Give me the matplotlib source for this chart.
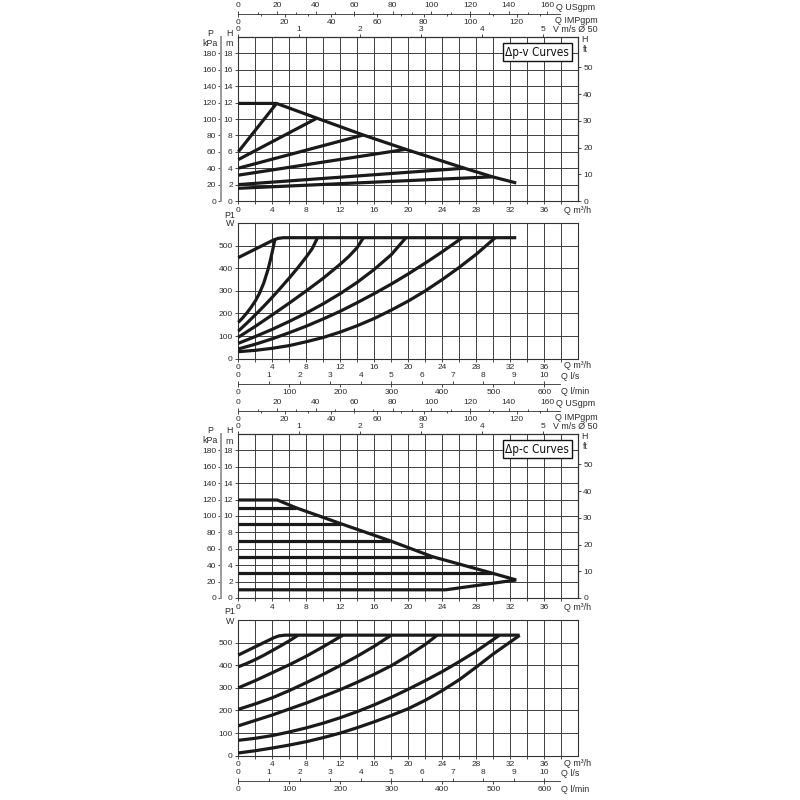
import numpy as np
import matplotlib
matplotlib.use("Agg")
import matplotlib.pyplot as plt
from matplotlib import font_manager
from matplotlib.font_manager import FontProperties

# ---- values (Q in m3/h, H in m, P1 in W) ----

# delta-p-v, head
dpv_max_q = [0, 4.5, 9.25, 14.7, 19.7, 26.6, 29.9, 32.7]
dpv_max_h = [11.9, 11.9, 10.1, 8.05, 6.3, 4.0, 2.95, 2.2]
dpv_start_h = [6.0, 5.05, 4.0, 3.15, 2.0, 1.55]
dpv_end_q = [4.5, 9.25, 14.7, 19.7, 26.6, 29.9]
dpv_end_h = [11.9, 10.1, 8.05, 6.3, 4.0, 2.95]

# delta-p-v, power
dpv_pmax_q = [0, 4.2, 4.7, 5.3, 32.7]
dpv_pmax_w = [447, 526, 532, 535, 535]
dpv_pow_q = [
    [0, 0.5, 1, 1.5, 2, 2.5, 3, 3.5, 3.8, 4.1, 4.3],
    [0, 1, 2, 3, 4, 5, 6, 7, 8, 8.7, 9.3],
    [0, 2, 4, 6, 8, 10, 12, 13, 14, 14.7],
    [0, 2, 4, 6, 8, 10, 12, 14, 16, 18, 19.7],
    [0, 2, 4, 6, 8, 10, 12, 14, 16, 18, 20, 22, 24, 26.35],
    [0, 2, 4, 6, 8, 10, 12, 14, 16, 18, 20, 22, 24, 26, 28, 30.2],
]
dpv_pow_w = [
    [161, 180, 202, 227, 255, 290, 335, 395, 440, 490, 528],
    [122, 157, 194, 232, 272, 314, 357, 402, 450, 487, 533],
    [95, 143, 194, 246, 300, 356, 418, 452, 492, 534],
    [68, 98, 130, 165, 202, 243, 288, 338, 395, 460, 534],
    [43, 64, 88, 115, 144, 176, 210, 248, 288, 330, 375, 423, 473, 535],
    [31, 37, 46, 58, 75, 94, 118, 146, 178, 215, 255, 300, 350, 404, 462, 534],
]

# delta-p-c, head
dpc_max_q = [0, 4.6, 6.8, 12.1, 17.8, 22.8, 29.8, 32.7]
dpc_max_h = [11.95, 11.95, 11.0, 9.05, 7.0, 5.05, 3.05, 2.2]
dpc_min_q = [0, 24.4, 32.7]
dpc_min_h = [1.0, 1.0, 2.2]
dpc_level_h = [11.0, 9.05, 7.0, 5.05, 3.05]
dpc_level_end_q = [6.8, 12.1, 17.8, 22.8, 29.8]

# delta-p-c, power
dpc_pmax_q = [0, 4.2, 4.8, 5.5, 33.1]
dpc_pmax_w = [445, 522, 530, 533, 533]
dpc_pow_q = [
    [0, 1, 2, 3, 4, 5, 6, 7],
    [0, 2, 4, 6, 8, 10, 12.3],
    [0, 2, 4, 6, 8, 10, 12, 14, 16, 18],
    [0, 4, 8, 12, 14, 16, 18, 20, 22, 23.4],
    [0, 2, 4, 6, 8, 10, 12, 14, 16, 18, 20, 22, 24, 26, 28, 30.7],
    [0, 2, 4, 6, 8, 10, 12, 14, 16, 18, 20, 22, 24, 26, 28, 30, 32, 33.1],
]
dpc_pow_w = [
    [393, 408, 425, 444, 465, 486, 508, 532],
    [300, 332, 367, 402, 440, 482, 533],
    [205, 229, 256, 288, 323, 360, 399, 440, 484, 533],
    [132, 180, 233, 292, 325, 360, 398, 443, 492, 533],
    [68, 77, 89, 105, 123, 144, 168, 195, 225, 258, 294, 332, 372, 416, 462, 532],
    [12, 22, 34, 47, 62, 80, 100, 124, 150, 178, 208, 245, 288, 336, 392, 450, 503, 532],
]

# unit conversions (per m3/h, per m)
USGPM = 4.403
IMPGPM = 3.666
LPS = 1 / 3.6
LPM = 1000 / 60
VEL = 1 / 7.16      # m/s in DN50
FT = 3.07
KPA = 10.0

# ---- layout in pixels of the 800x800 sheet ----
PX = 800
AX_L = 238.3
AX_W = 340.0
LINE_END = 37.8
FS = 6.0
FS_UNIT = 6.4
TXT = "#2b2b2b"
GRID = "#3f3f3f"
CURVE = "#1a1a1a"

plt.rcParams["font.family"] = ["Liberation Sans", "DejaVu Sans"]


def narrow_font():
    fonts = font_manager.fontManager.ttflist
    for f in fonts:
        if f.name == "Liberation Sans Narrow" and f.weight in (400, "normal", "regular") \
                and f.style == "normal":
            return FontProperties(fname=f.fname)
    for f in fonts:
        if str(f.stretch) in ("condensed", "semi-condensed") and f.style == "normal" \
                and f.weight in (400, "normal", "regular"):
            return FontProperties(fname=f.fname)
    return FontProperties(family="Liberation Sans")


NARROW = narrow_font()

fig = plt.figure(figsize=(8, 8), dpi=100)


def rect(top, height):
    return [AX_L / PX, 1 - (top + height) / PX, AX_W / PX, height / PX]


def label(x, y, s, ha="left"):
    fig.text(x / PX, 1 - y / PX, s, ha=ha, va="center", fontsize=FS_UNIT, color=TXT)


def style_grid(ax, ymax, ystep):
    ax.set_xlim(0, 40)
    ax.set_ylim(0, ymax)
    ax.set_xticks(np.arange(0, 37, 4))
    ax.set_xticks(np.arange(2, 40, 4), minor=True)
    ax.set_yticks(np.arange(0, ymax, ystep))
    ax.grid(True, which="both", color=GRID, lw=0.7)
    ax.set_axisbelow(True)
    ax.tick_params(which="both", direction="out", length=2.5, width=0.6,
                   labelsize=FS, pad=1.5, colors=TXT)
    for s in ax.spines.values():
        s.set_color("#333333")
        s.set_linewidth(0.8)


def scale_line(y, top_k, top_major, top_minor, bot_k, bot_major, bot_minor):
    ax = fig.add_axes([AX_L / PX, 1 - y / PX, AX_W / PX, 0.0004])
    ax.set_xlim(0, 40)
    ax.set_ylim(0, 1)
    for s in ("top", "left", "right"):
        ax.spines[s].set_visible(False)
    ax.spines["bottom"].set_bounds(0, LINE_END)
    ax.spines["bottom"].set_color(TXT)
    ax.spines["bottom"].set_linewidth(0.6)
    ax.set_xticks([])
    ax.set_yticks([])
    ax.patch.set_alpha(0)
    for loc, k, major, minor in (("top", top_k, top_major, top_minor),
                                 ("bottom", bot_k, bot_major, bot_minor)):
        sec = ax.secondary_xaxis(loc, functions=(lambda q, k=k: q * k,
                                                 lambda v, k=k: v / k))
        sec.set_xticks(major)
        sec.set_xticks(minor, minor=True)
        sec.spines[loc].set_visible(False)
        sec.tick_params(which="major", direction="out", length=2.5, width=0.6,
                        pad=1, labelsize=FS, colors=TXT)
        sec.tick_params(which="minor", direction="out", length=1.5, width=0.6,
                        colors=TXT)


def head_panel(d, title):
    ax = fig.add_axes(rect(37 + d, 164))
    style_grid(ax, 20, 2)

    vel = ax.secondary_xaxis("top", functions=(lambda q: q * VEL, lambda v: v / VEL))
    vel.set_xticks(range(0, 6))
    vel.tick_params(direction="out", length=2.5, width=0.6, pad=0.5,
                    labelsize=FS, colors=TXT)

    ft = ax.secondary_yaxis("right", functions=(lambda m: m * FT, lambda f: f / FT))
    ft.set_yticks(range(0, 51, 10))
    ft.tick_params(direction="out", length=2.5, width=0.6, pad=1,
                   labelsize=FS, colors=TXT)

    kpa = ax.secondary_yaxis(-0.051, functions=(lambda m: m * KPA, lambda p: p / KPA))
    kpa.set_yticks(range(0, 181, 20))
    kpa.spines["left"].set_color("#9a9a9a")
    kpa.spines["left"].set_linewidth(1.4)
    kpa.tick_params(direction="out", length=2.5, width=0.6, pad=1,
                    labelsize=FS, colors=TXT)

    ax.text(0.9726, 0.948, title, transform=ax.transAxes, ha="right", va="top",
            fontproperties=NARROW, fontsize=8.5, color="#111111", zorder=5,
            bbox=dict(boxstyle="square,pad=0.22", fc="white", ec="#111111", lw=1.0))

    label(210, 34 + d, "P", "center")
    label(210, 43 + d, "kPa", "center")
    label(229, 34 + d, "H", "center")
    label(229, 44 + d, "m", "center")
    label(581, 39 + d, "H")
    label(583, 49.5 + d, "ft")
    label(598, 20.5 + d, "Q IMPgpm", "right")
    label(598, 29.5 + d, "V m/s \u00d8 50", "right")
    label(556, 7 + d, "Q USgpm")
    label(564, 210.5 + d, "Q m\u00b3/h")
    return ax


def power_panel(d):
    ax = fig.add_axes(rect(223 + d, 135.7))
    style_grid(ax, 600, 100)
    label(230, 215 + d, "P1", "center")
    label(230, 224 + d, "W", "center")
    label(564, 366 + d, "Q m\u00b3/h")
    label(561, 376.5 + d, "Q l/s")
    label(561, 392 + d, "Q l/min")
    return ax


def draw(ax, q, v):
    ax.plot(q, v, color=CURVE, lw=2.3, solid_capstyle="butt",
            solid_joinstyle="round", zorder=3, clip_on=False)


for d in (0, 397):
    scale_line(14 + d, USGPM, range(0, 161, 20), range(10, 160, 20),
               IMPGPM, range(0, 121, 20), range(10, 131, 20))
    scale_line(384 + d, LPS, range(0, 11), [],
               LPM, range(0, 601, 100), [])

# delta-p-v
ax1 = head_panel(0, "\u0394p-v Curves")
draw(ax1, dpv_max_q, dpv_max_h)
for h0, qe, he in zip(dpv_start_h, dpv_end_q, dpv_end_h):
    draw(ax1, [0, qe], [h0, he])

ax2 = power_panel(0)
draw(ax2, dpv_pmax_q, dpv_pmax_w)
for q, w in zip(dpv_pow_q, dpv_pow_w):
    draw(ax2, q, w)

# delta-p-c
ax3 = head_panel(397, "\u0394p-c Curves")
draw(ax3, dpc_max_q, dpc_max_h)
draw(ax3, dpc_min_q, dpc_min_h)
for h, qe in zip(dpc_level_h, dpc_level_end_q):
    draw(ax3, [0, qe], [h, h])

ax4 = power_panel(397)
draw(ax4, dpc_pmax_q, dpc_pmax_w)
for q, w in zip(dpc_pow_q, dpc_pow_w):
    draw(ax4, q, w)

fig.savefig("out.png", dpi=100, facecolor="white")
